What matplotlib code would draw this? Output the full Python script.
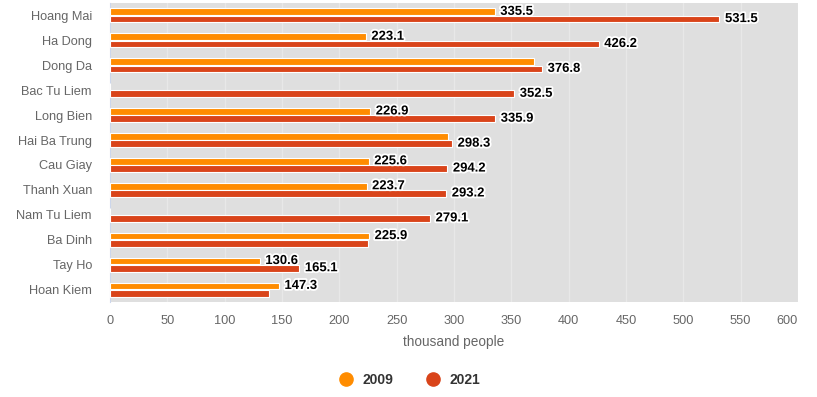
import numpy as np
import matplotlib.pyplot as plt
import matplotlib.patheffects as pe
from matplotlib.lines import Line2D

plt.rcParams['font.family'] = ['Liberation Sans', 'DejaVu Sans']

districts = ['Hoang Mai', 'Ha Dong', 'Dong Da', 'Bac Tu Liem', 'Long Bien', 'Hai Ba Trung',
             'Cau Giay', 'Thanh Xuan', 'Nam Tu Liem', 'Ba Dinh', 'Tay Ho', 'Hoan Kiem']
pop_2009 = [335.5, 223.1, 369.6, None, 226.9, 295.0, 225.6, 223.7, None, 225.9, 130.6, 147.3]
pop_2021 = [531.5, 426.2, 376.8, 352.5, 335.9, 298.3, 294.2, 293.2, 279.1, 224.6, 165.1, 139.0]
# which data labels are drawn (the others overlap and are hidden in the original)
show_2009 = [True, True, False, False, True, False, True, True, False, True, True, True]
show_2021 = [True, True, True, True, True, True, True, True, True, False, True, False]

c2009 = '#ff8c00'
c2021 = '#d9441a'

fig = plt.figure(figsize=(8.17, 3.97), dpi=100)
ax = fig.add_axes([110 / 817, 1 - 302 / 397, 688 / 817, 299 / 397])
ax.set_facecolor('#dfdfdf')

y = np.arange(len(districts))
off = 0.145
h = 0.27

v09 = np.array([np.nan if v is None else v for v in pop_2009])
v21 = np.array(pop_2021, dtype=float)

ax.barh(y - off, np.nan_to_num(v09), height=h, color=c2009, edgecolor='white', linewidth=0.8, zorder=3)
ax.barh(y + off, v21, height=h, color=c2021, edgecolor='white', linewidth=0.8, zorder=3)

stroke = [pe.withStroke(linewidth=2.6, foreground='white')]
for i in range(len(districts)):
    if show_2009[i] and not np.isnan(v09[i]):
        ax.annotate(f'{v09[i]:.1f}', (v09[i], y[i] - off), xytext=(4, 0), textcoords='offset points',
                    ha='left', va='center', fontsize=9.4, fontweight='bold', color='black',
                    path_effects=stroke, zorder=5)
    if show_2021[i]:
        ax.annotate(f'{v21[i]:.1f}', (v21[i], y[i] + off), xytext=(4, 0), textcoords='offset points',
                    ha='left', va='center', fontsize=9.4, fontweight='bold', color='black',
                    path_effects=stroke, zorder=5)

ax.set_xlim(0, 600)
ax.set_ylim(len(districts) - 0.5, -0.5)
ax.set_xticks(np.arange(0, 601, 50))
ax.set_yticks(y)
ax.set_yticklabels(districts)
ax.tick_params(axis='y', length=0, pad=13, labelsize=9.2, labelcolor='#666666')
ax.tick_params(axis='x', length=0, pad=9, labelsize=9.2, labelcolor='#666666')
# last tick label is pushed inside the chart, as in the original
ax.get_xticklabels()[-1].set_horizontalalignment('right')
ax.grid(axis='x', color='#e8e8e8', linewidth=1, zorder=0)
ax.set_axisbelow(True)
for s in ['top', 'right', 'bottom']:
    ax.spines[s].set_visible(False)
ax.spines['left'].set_color('#ccd6eb')

ax.set_xlabel('thousand people', fontsize=9.8, color='#666666', labelpad=6)

handles = [Line2D([], [], marker='o', linestyle='', markersize=9.5, color=c2009),
           Line2D([], [], marker='o', linestyle='', markersize=9.5, color=c2021)]
leg = fig.legend(handles, ['2009', '2021'], loc='center', bbox_to_anchor=(0.497, 1 - 380 / 397),
                 ncol=2, frameon=False, handletextpad=0.2, columnspacing=1.8,
                 prop={'weight': 'bold', 'size': 10})
for t in leg.get_texts():
    t.set_color('#333333')

fig.savefig('out.png', dpi=100)
